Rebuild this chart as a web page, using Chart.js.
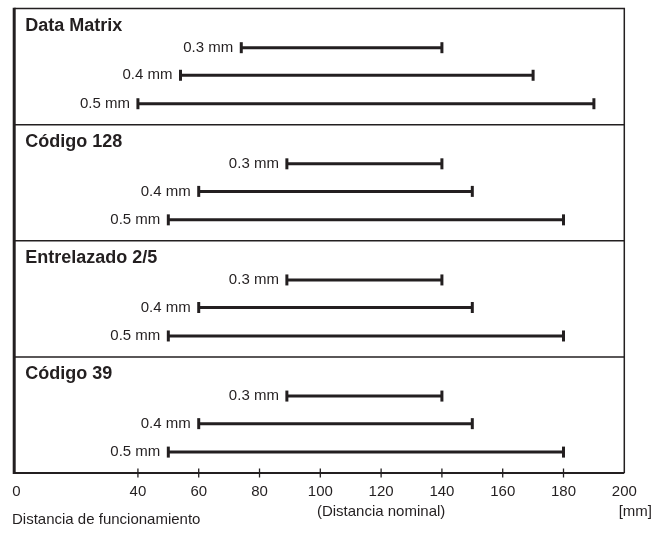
<!DOCTYPE html>
<html>
<head>
<meta charset="utf-8">
<script src="https://cdn.jsdelivr.net/npm/chart.js@4/dist/chart.umd.min.js"></script>
<style>
  html, body { margin: 0; padding: 0; background: #fff; }
  #wrap { width: 653px; height: 546px; position: relative; }
</style>
</head>
<body>
<div id="wrap"><canvas id="chart"></canvas></div>
<script>
// symbologies and module sizes
const groups = ["Data Matrix", "Código 128", "Entrelazado 2/5", "Código 39"];
const moduleSizes = ["0.3 mm", "0.4 mm", "0.5 mm"];

// operating distance range [mm] per group / module size
const startDist = [
    [74, 54, 40],
    [89, 60, 50],
    [89, 60, 50],
    [89, 60, 50]
];
const endDist = [
    [140, 170, 190],
    [140, 150, 180],
    [140, 150, 180],
    [140, 150, 180]
];

const tickValues = [0, 40, 60, 80, 100, 120, 140, 160, 180, 200];

// layout of the rows inside each section (y units, 4 per section)
const SECTION = 4;
const TITLE_POS = 0.6;
const ROW_POS = [1.35, 2.3, 3.28];

const INK = "#231f20";
const FONT = "'Liberation Sans', Arial, Helvetica, sans-serif";

let datasets = [];
for (let g = 0; g < groups.length; g++) {
    for (let i = 0; i < moduleSizes.length; i++) {
        const y = g * SECTION + ROW_POS[i];
        datasets.push({
            label: groups[g] + " " + moduleSizes[i],
            data: [{ x: startDist[g][i], y: y }, { x: endDist[g][i], y: y }],
            showLine: true,
            borderColor: INK,
            borderWidth: 3,
            pointStyle: "line",
            rotation: 90,
            pointRadius: 5.5,
            pointHoverRadius: 5.5,
            pointBorderWidth: 3,
            pointBorderColor: INK,
            clip: false,
            sizeLabel: moduleSizes[i]
        });
    }
}

// frame, section titles, size labels, ticks and axis captions
const decor = {
    id: "decor",
    beforeDatasetsDraw(chart) {
        const ctx = chart.ctx;
        const a = chart.chartArea;
        const xs = chart.scales.x;
        const ys = chart.scales.y;
        ctx.save();
        ctx.strokeStyle = INK;

        // section separators
        ctx.lineWidth = 1.5;
        for (let g = 1; g < groups.length; g++) {
            const y = ys.getPixelForValue(g * SECTION);
            ctx.beginPath();
            ctx.moveTo(a.left, y);
            ctx.lineTo(a.right, y);
            ctx.stroke();
        }
        // top + right
        ctx.beginPath();
        ctx.moveTo(a.left, a.top);
        ctx.lineTo(a.right, a.top);
        ctx.lineTo(a.right, a.bottom);
        ctx.stroke();
        // bottom axis
        ctx.lineWidth = 2;
        ctx.beginPath();
        ctx.moveTo(a.left, a.bottom);
        ctx.lineTo(a.right, a.bottom);
        ctx.stroke();
        // left axis
        ctx.lineWidth = 3;
        ctx.beginPath();
        ctx.moveTo(a.left, a.top - 0.75);
        ctx.lineTo(a.left, a.bottom + 1);
        ctx.stroke();

        // tick marks crossing the axis
        ctx.lineWidth = 1.3;
        xs.ticks.forEach(t => {
            if (t.value <= 0 || t.value >= 200) return;
            const x = xs.getPixelForValue(t.value);
            ctx.beginPath();
            ctx.moveTo(x, a.bottom - 4.5);
            ctx.lineTo(x, a.bottom + 4.5);
            ctx.stroke();
        });

        ctx.fillStyle = INK;
        ctx.textBaseline = "middle";

        // section titles
        ctx.font = "bold 18px " + FONT;
        ctx.textAlign = "left";
        groups.forEach((name, g) => {
            ctx.fillText(name, a.left + 11, ys.getPixelForValue(g * SECTION + TITLE_POS));
        });

        // module size labels next to the bar start
        ctx.font = "15px " + FONT;
        ctx.textAlign = "right";
        chart.data.datasets.forEach(ds => {
            const p = ds.data[0];
            ctx.fillText(ds.sizeLabel, xs.getPixelForValue(p.x) - 8, ys.getPixelForValue(p.y));
        });

        // captions under the axis
        ctx.textAlign = "left";
        ctx.fillText("Distancia de funcionamiento", 12, 520);
        ctx.textAlign = "center";
        ctx.fillText("(Distancia nominal)", xs.getPixelForValue(120), 511.5);
        ctx.textAlign = "right";
        ctx.fillText("[mm]", 652, 511.5);
        ctx.restore();
    }
};

const ctx = document.getElementById("chart").getContext("2d");

new Chart(ctx, {
    type: "scatter",
    data: { datasets: datasets },
    plugins: [decor],
    options: {
        responsive: true,
        maintainAspectRatio: false,
        animation: false,
        events: [],
        layout: { padding: { left: 14.2, right: 28.7, top: 6, bottom: 35 } },
        plugins: {
            legend: { display: false },
            tooltip: { enabled: false }
        },
        scales: {
            x: {
                type: "linear",
                min: -0.7,
                max: 200,
                afterBuildTicks: scale => {
                    scale.ticks = tickValues.map(v => ({ value: v }));
                },
                grid: { display: false, drawTicks: false },
                border: { display: false },
                ticks: {
                    autoSkip: false,
                    maxRotation: 0,
                    padding: 10,
                    color: INK,
                    font: { family: FONT, size: 15 }
                }
            },
            y: {
                type: "linear",
                min: 0,
                max: groups.length * SECTION,
                reverse: true,
                display: false
            }
        }
    }
});
</script>
</body>
</html>
